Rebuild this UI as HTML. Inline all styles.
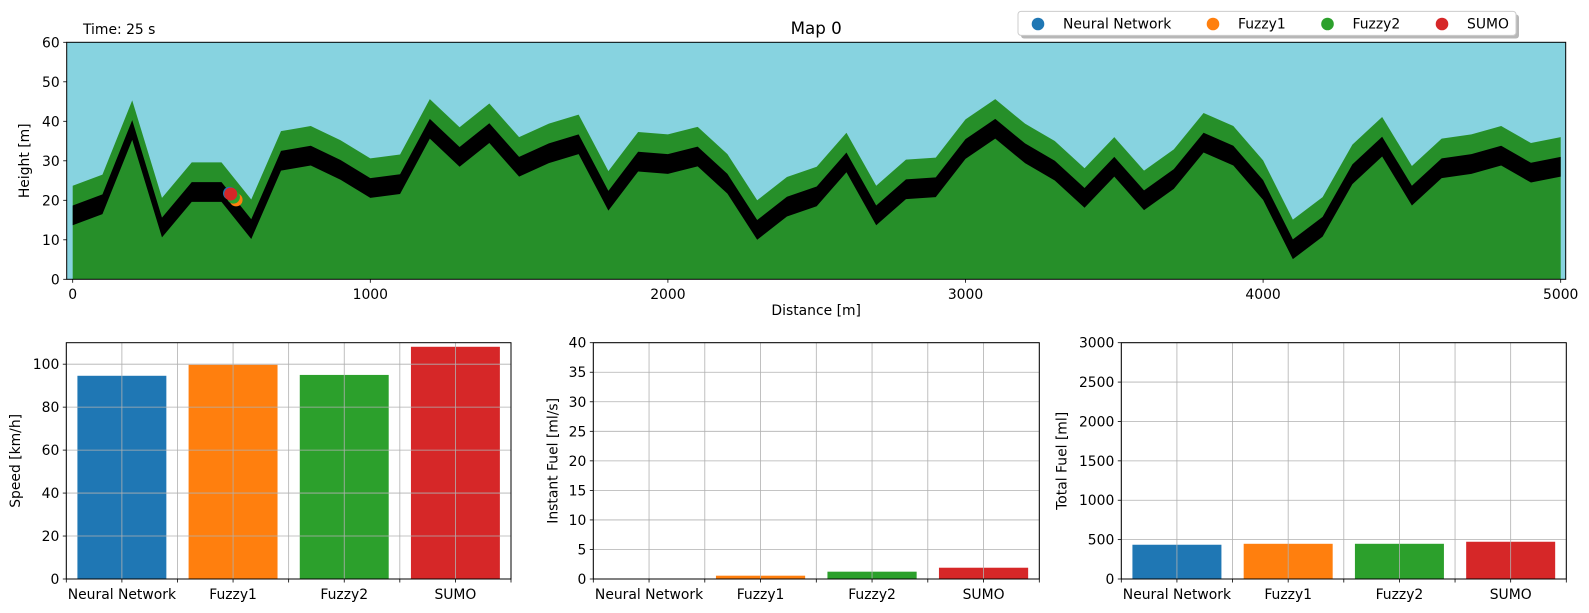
<!DOCTYPE html>
<html><head><meta charset="utf-8"><style>
html,body{margin:0;padding:0;background:#fff;}
svg{display:block;font-family:"DejaVu Sans","Liberation Sans",sans-serif;}
</style></head><body>
<svg id="fig" width="1589" height="613" viewBox="0 0 1589 613" xmlns="http://www.w3.org/2000/svg"></svg>
<script>
// ---- data ----
const roadDist = [0,100,200,300,400,500,600,700,800,900,1000,1100,1200,1300,1400,1500,1600,1700,1800,1900,2000,2100,2200,2300,2400,2500,2600,2700,2800,2900,3000,3100,3200,3300,3400,3500,3600,3700,3800,3900,4000,4100,4200,4300,4400,4500,4600,4700,4800,4900,5000];
const roadHeight = [18.7,21.5,40.3,15.6,24.6,24.6,15.2,32.5,33.8,30.2,25.6,26.6,40.6,33.5,39.5,31.0,34.4,36.7,22.4,32.3,31.7,33.6,26.7,15.0,20.9,23.5,32.1,18.7,25.3,25.8,35.5,40.6,34.4,30.0,23.1,31.0,22.5,27.9,37.1,33.8,25.1,10.1,15.8,29.1,36.1,23.7,30.6,31.7,33.8,29.5,31.0];
const agents = ["Neural Network","Fuzzy1","Fuzzy2","SUMO"];
const agentColors = ["#1f77b4","#ff7f0e","#2ca02c","#d62728"];
const agentDist = [527,549,540,531];
const agentHeight = [21.8,20.1,20.8,21.6];
const speedVals = [94.6,99.7,95.0,108.1];
const instFuelVals = [0,0.56,1.24,1.91];
const totalFuelVals = [435,447,447,473];
const xTicksTop = [0,1000,2000,3000,4000,5000];
const yTicksTop = [0,10,20,30,40,50,60];
const speedTicks = [0,20,40,60,80,100];
const instTicks = [0,5,10,15,20,25,30,35,40];
const totalTicks = [0,500,1000,1500,2000,2500,3000];

const NS="http://www.w3.org/2000/svg";
const svg=document.getElementById('fig');
function mk(tag,attrs,parent){const e=document.createElementNS(NS,tag);for(const k in attrs)e.setAttribute(k,attrs[k]);(parent||svg).appendChild(e);return e;}
function txt(s,attrs,parent){const e=mk('text',attrs,parent);e.textContent=s;return e;}

// ---- top chart ----
const T={l:66.7,r:1565.7,t:42.3,b:279.3};
const tx=d=>72.7+d*(1560.7-72.7)/5000;
const ty=h=>T.b-(h/60)*(T.b-T.t);
const topG=mk('g',{});


const sky=mk('rect',{x:T.l,y:T.t,width:T.r-T.l,height:T.b-T.t,fill:'#87d3e0'},topG);


function bandPath(lowOff,highOff){
  let p='';
  roadDist.forEach((d,i)=>{p+=(i?'L':'M')+tx(d).toFixed(2)+','+ty(roadHeight[i]+highOff).toFixed(2);});
  for(let i=roadDist.length-1;i>=0;i--){const y=lowOff===null?T.b:ty(roadHeight[i]+lowOff);p+='L'+tx(roadDist[i]).toFixed(2)+','+y.toFixed(2);}
  return p+'Z';
}
const g1=mk('path',{d:bandPath(null,5),fill:'#268f29'},topG);


const rd=mk('path',{d:bandPath(-5,0),fill:'#000'},topG);


agents.forEach((a,i)=>{
  const c=mk('circle',{cx:tx(agentDist[i]),cy:ty(agentHeight[i]),r:6.5,fill:agentColors[i]},topG);
  
  
});
mk('rect',{x:T.l,y:T.t,width:T.r-T.l,height:T.b-T.t,fill:'none',stroke:'#000','stroke-width':1},topG);
xTicksTop.forEach(v=>{
  mk('line',{x1:tx(v),x2:tx(v),y1:T.b,y2:T.b+3.5,stroke:'#000','stroke-width':0.8},topG);
  const t=txt(String(v),{x:tx(v),y:T.b+19.5,'font-size':13.9,'text-anchor':'middle',fill:'#000'},topG);
  
  
});
yTicksTop.forEach(v=>{
  mk('line',{x1:T.l-3.5,x2:T.l,y1:ty(v),y2:ty(v),stroke:'#000','stroke-width':0.8},topG);
  const t=txt(String(v),{x:T.l-7,y:ty(v)+5,'font-size':13.9,'text-anchor':'end',fill:'#000'},topG);
  
  
});
const xl=txt('Distance [m]',{x:(T.l+T.r)/2,y:315,'font-size':13.9,'text-anchor':'middle'},topG);


const yl=txt('Height [m]',{x:0,y:0,'font-size':13.9,'text-anchor':'middle',transform:'translate(29,'+((T.t+T.b)/2)+') rotate(-90)'},topG);


const ti=txt('Map 0',{x:(T.l+T.r)/2,y:34,'font-size':16.7,'text-anchor':'middle'},topG);


const tm=txt('Time: 25 s',{x:83,y:34,'font-size':13.9},topG);



// legend
const lg=mk('g',{});


mk('rect',{x:1021,y:14.5,width:498,height:24,rx:3,fill:'#999',opacity:0.7},lg);
mk('rect',{x:1018,y:11.4,width:498,height:24,rx:3,fill:'#fff',stroke:'#ccc','stroke-width':1},lg);
const legMx=[1038,1213,1327.5,1442];
agents.forEach((a,i)=>{
  const e=mk('g',{},lg);
  
  
  mk('circle',{cx:legMx[i],cy:24,r:6.3,fill:agentColors[i]},e);
  txt(a,{x:legMx[i]+25,y:28.5,'font-size':13.9},e);
});

// ---- bar charts ----
function barChart(name,L,R,vals,ticks,ymax,ylabel,ylabX){
  const B={t:342.7,b:579};
  const g=mk('g',{});
  
  
  const step=(R-L)/4;
  const bx=i=>L+(i+0.5)*step;
  const by=v=>B.b-(v/ymax)*(B.b-B.t);
  vals.forEach((v,i)=>{
    const r=mk('rect',{x:bx(i)-0.4*step,y:by(v),width:0.8*step,height:B.b-by(v),fill:agentColors[i]},g);
    
    
  });
  ticks.forEach(v=>{mk('line',{x1:L,x2:R,y1:by(v),y2:by(v),stroke:'#b0b0b0','stroke-width':0.8},g);});
  for(let k=0;k<=8;k++){const x=L+k*step/2;mk('line',{x1:x,x2:x,y1:B.t,y2:B.b,stroke:'#b0b0b0','stroke-width':0.8},g);
    mk('line',{x1:x,x2:x,y1:B.b,y2:B.b+3.5,stroke:'#000','stroke-width':0.8},g);}
  mk('rect',{x:L,y:B.t,width:R-L,height:B.b-B.t,fill:'none',stroke:'#000','stroke-width':1},g);
  ticks.forEach(v=>{
    mk('line',{x1:L-3.5,x2:L,y1:by(v),y2:by(v),stroke:'#000','stroke-width':0.8},g);
    const t=txt(String(v),{x:L-7,y:by(v)+5,'font-size':13.9,'text-anchor':'end'},g);
    
    
  });
  agents.forEach((a,i)=>{
    const t=txt(a,{x:bx(i),y:599,'font-size':13.9,'text-anchor':'middle'},g);
    
    
  });
  const yt=txt(ylabel,{x:0,y:0,'font-size':13.9,'text-anchor':'middle',transform:'translate('+(ylabX+5)+','+((B.t+B.b)/2)+') rotate(-90)'},g);
  
  
}
barChart('speed-chart',66.3,511,speedVals,speedTicks,110,'Speed [km/h]',15.2);
barChart('instant-fuel-chart',593.3,1039.3,instFuelVals,instTicks,40,'Instant Fuel [ml/s]',552.3);
barChart('total-fuel-chart',1121.3,1566.3,totalFuelVals,totalTicks,3000,'Total Fuel [ml]',1061.7);
</script>
</body></html>
